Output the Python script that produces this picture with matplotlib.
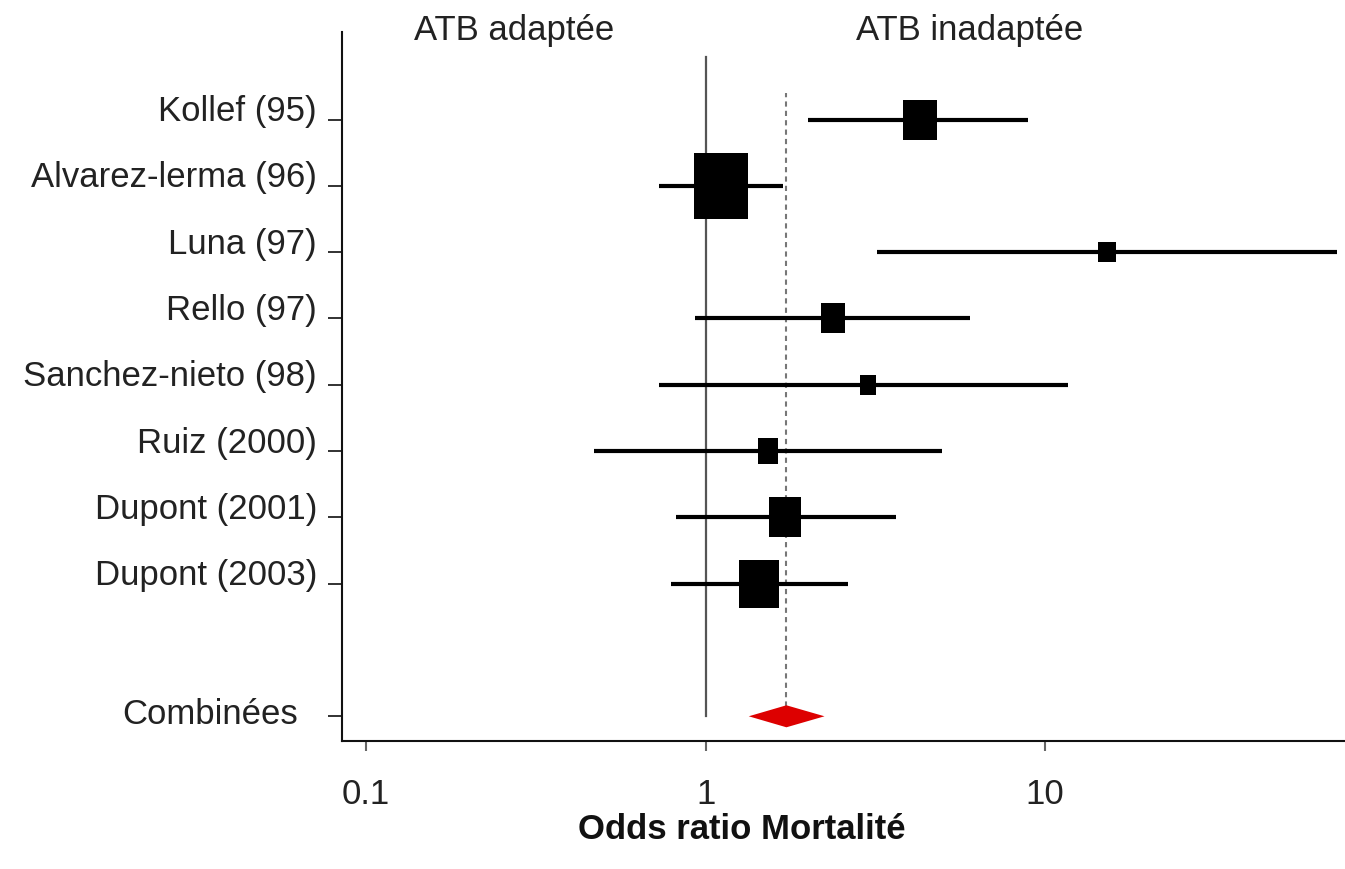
import numpy as np
import matplotlib
matplotlib.use('Agg')
import matplotlib.pyplot as plt
from matplotlib.transforms import ScaledTranslation, blended_transform_factory

plt.rcParams['font.family'] = ['Liberation Sans', 'DejaVu Sans']

# studies, odds ratios and 95% CI
etudes = ['Kollef (95)', 'Alvarez-lerma (96)', 'Luna (97)', 'Rello (97)',
          'Sanchez-nieto (98)', 'Ruiz (2000)', 'Dupont (2001)', 'Dupont (2003)']
odds = [4.27, 1.11, 15.2, 2.38, 3.0, 1.53, 1.71, 1.44]
ci_bas = [2.0, 0.73, 3.19, 0.93, 0.73, 0.47, 0.82, 0.79]
ci_haut = [8.9, 1.69, 72.4, 6.0, 11.65, 4.96, 3.63, 2.62]
poids = [13.6, 35.5, 3.6, 7.3, 3.2, 5.2, 13.0, 18.5]   # weight (%)

comb_label = 'Combinées'
comb_or = 1.73
comb_bas = 1.34
comb_haut = 2.24

rows = np.arange(10, 10 - len(etudes), -1)   # 10 .. 3
comb_row = 1

fig = plt.figure(figsize=(13.45, 8.7), dpi=100)
ax = fig.add_axes([0.2543, 0.1471, 0.7457, 0.815])
ax.set_xscale('log')
ax.set_xlim(0.0849, 76.5)
ax.set_ylim(0.627, 11.32)

# reference lines
ax.plot([1, 1], [comb_row, 10.95], color='#555555', lw=1.6, zorder=1)
ax.plot([comb_or, comb_or], [comb_row, 10.4], color='#777777', lw=1.5,
        ls=(0, (2.5, 2)), zorder=1)

# rectangle marker (boxes a bit taller than wide)
box = [(-0.83, -1), (0.83, -1), (0.83, 1), (-0.83, 1), (-0.83, -1)]
for y, o, lo, hi, w in zip(rows, odds, ci_bas, ci_haut, poids):
    ax.plot([lo, hi], [y, y], color='black', lw=3, solid_capstyle='butt', zorder=2)
    ax.plot([o], [y], marker=box, color='black', ms=11 * np.sqrt(w) * 0.72,
            mew=0, ls='none', zorder=3)

# pooled estimate diamond
h = 0.166
ax.fill([comb_bas, comb_or, comb_haut, comb_or],
        [comb_row, comb_row + h, comb_row, comb_row - h],
        color='#dd0000', lw=0, zorder=3)

ax.set_yticks(list(rows) + [comb_row])
ax.set_yticklabels(etudes + [comb_label])
ax.set_xticks([0.1, 1, 10])
ax.set_xticklabels(['0.1', '1', '10'])
ax.minorticks_off()

ax.tick_params(axis='y', direction='out', length=10, width=1.3, pad=8,
               labelsize=25, colors='#222222')
ax.tick_params(axis='x', direction='out', length=7, width=1.5, pad=19,
               labelsize=25, colors='#222222', color='#666666')
ylabs = ax.get_yticklabels()
for lab in ylabs[:-1]:
    lab.set_transform(lab.get_transform() +
                      ScaledTranslation(0, 9 / 72, fig.dpi_scale_trans))
# "Combinées" sits a bit further left and lower
ylabs[-1].set_transform(ylabs[-1].get_transform() +
                        ScaledTranslation(-14 / 72, 4.5 / 72, fig.dpi_scale_trans))

for s in ['top', 'right']:
    ax.spines[s].set_visible(False)
for s in ['left', 'bottom']:
    ax.spines[s].set_linewidth(1.5)
    ax.spines[s].set_color('#111111')

# headers above the plot
tr = blended_transform_factory(ax.transData, fig.transFigure)
ax.text(0.272, 0.9655, 'ATB adaptée', transform=tr, ha='center', va='center',
        fontsize=25, color='#222222')
ax.text(6.0, 0.9655, 'ATB inadaptée', transform=tr, ha='center', va='center',
        fontsize=25, color='#222222')

fig.text(0.5517, 0.046, 'Odds ratio Mortalité', ha='center', va='center',
         fontsize=25, fontweight='bold', color='#111111')

fig.savefig('out.png', dpi=100)
